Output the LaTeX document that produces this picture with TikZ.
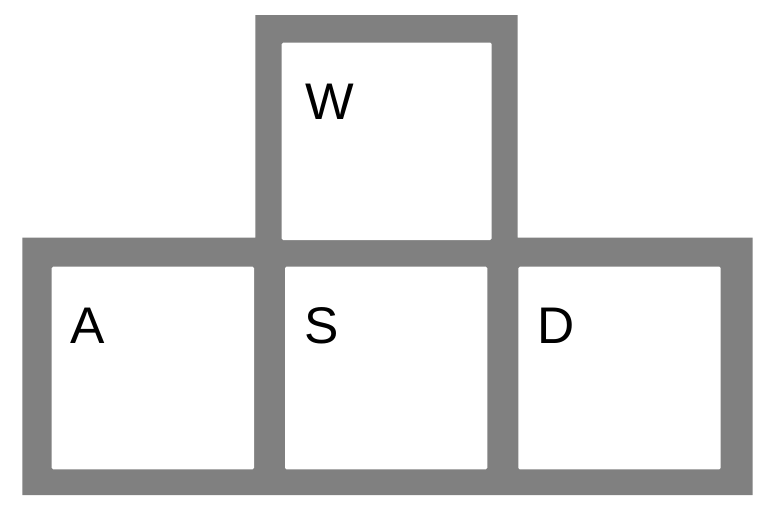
\documentclass[tikz,border=0pt]{standalone}
\usepackage{fontspec}
\setmainfont{Liberation Sans}
\definecolor{keygrey}{RGB}{128,128,128}
\tikzset{
  keyface/.style={fill=white, draw=none, rounded corners=1.5pt},
  keylabel/.style={anchor=base west, inner sep=0pt, font=\fontsize{51.5}{60}\selectfont, text=black}
}
\begin{document}
\begin{tikzpicture}[x=1pt,y=-1pt]
\useasboundingbox (0,0) rectangle (784,523);
% grey frame
\fill[keygrey] (22.3,237.7) -- (255.3,237.7) -- (255.3,15) -- (517.7,15) -- (517.7,237.7)
  -- (752.7,237.7) -- (752.7,495) -- (22.3,495) -- cycle;
% key faces
\path[keyface] (281.7,42.7) rectangle (491.7,240);
\path[keyface] (51.7,266.7) rectangle (254,469.3);
\path[keyface] (285,266.7) rectangle (487.3,469.3);
\path[keyface] (518.3,266.7) rectangle (720.7,469.3);
% labels
\node[keylabel] (w) at (305.5,119.3) {W};
\node[keylabel] (a) at (70,343.3) {A};
\node[keylabel] (s) at (304.6,343.3) {S};
\node[keylabel] (d) at (537.7,343.3) {D};
\end{tikzpicture}
\end{document}
